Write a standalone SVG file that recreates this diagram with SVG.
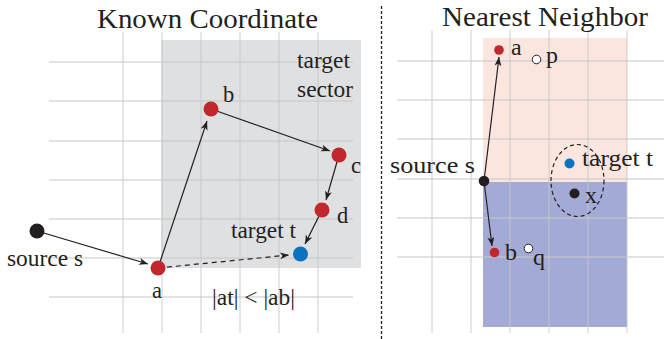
<svg xmlns="http://www.w3.org/2000/svg" width="664" height="339" viewBox="0 0 664 339">
<style>
.grid line{stroke:#c8c8c8;stroke-opacity:0.7;stroke-width:1.3}
.t{font-family:"Liberation Serif","Times New Roman",serif;fill:#231f20}
.lab{font-size:22.5px}
.labr{font-size:24px}
.title{font-size:28px}
.conn{stroke:#231f20;stroke-width:1.2;fill:none}
.red{fill:#c1272d}
.blue{fill:#0a72c0}
.blk{fill:#231f20}
.hollow{fill:#fff;stroke:#231f20;stroke-width:1}
</style>
<defs>
<marker id="ah" markerWidth="10" markerHeight="8" refX="9" refY="3.5" orient="auto" markerUnits="userSpaceOnUse">
<path d="M0,0 L9,3.5 L0,7 L2.5,3.5 z" fill="#231f20"/>
</marker>
</defs>
<rect width="664" height="339" fill="#fff"/>
<rect id="sector" x="161" y="40" width="200" height="228" fill="#dfe0e2"/>
<rect x="483" y="38" width="144" height="144" fill="#fae6df"/>
<rect x="483" y="182" width="144" height="145" fill="#a3aad6"/>
<g class="grid">
<line x1="123" y1="32" x2="123" y2="333"/>
<line x1="162" y1="32" x2="162" y2="333"/>
<line x1="201" y1="32" x2="201" y2="333"/>
<line x1="240" y1="32" x2="240" y2="333"/>
<line x1="279" y1="32" x2="279" y2="333"/>
<line x1="318" y1="32" x2="318" y2="333"/>
<line x1="49" y1="62" x2="353" y2="62"/>
<line x1="49" y1="101" x2="353" y2="101"/>
<line x1="49" y1="141" x2="353" y2="141"/>
<line x1="49" y1="180" x2="353" y2="180"/>
<line x1="49" y1="219" x2="353" y2="219"/>
<line x1="49" y1="258" x2="353" y2="258"/>
<line x1="49" y1="297" x2="353" y2="297"/>
<line x1="432" y1="30" x2="432" y2="333"/>
<line x1="471" y1="30" x2="471" y2="333"/>
<line x1="510" y1="30" x2="510" y2="333"/>
<line x1="549" y1="30" x2="549" y2="333"/>
<line x1="588" y1="30" x2="588" y2="333"/>
<line x1="627" y1="30" x2="627" y2="333"/>
<line x1="397" y1="61" x2="664" y2="61"/>
<line x1="397" y1="100" x2="664" y2="100"/>
<line x1="397" y1="139" x2="664" y2="139"/>
<line x1="397" y1="179" x2="664" y2="179"/>
<line x1="397" y1="218" x2="664" y2="218"/>
<line x1="397" y1="257" x2="664" y2="257"/>
</g>
<line x1="381.5" y1="6" x2="381.5" y2="339" stroke="#231f20" stroke-width="1.3" stroke-dasharray="3,2"/>
<g id="connectors" class="conn">
<line x1="37" y1="231" x2="148" y2="264" marker-end="url(#ah)"/>
<line x1="158" y1="268" x2="207" y2="121" marker-end="url(#ah)"/>
<line x1="211" y1="109" x2="330" y2="151" marker-end="url(#ah)"/>
<line x1="339" y1="155" x2="326" y2="200" marker-end="url(#ah)"/>
<line x1="322" y1="210" x2="305" y2="244" marker-end="url(#ah)"/>
<line x1="158" y1="268" x2="289" y2="255" stroke-dasharray="5,4" marker-end="url(#ah)"/>
<line x1="484" y1="181" x2="499" y2="57" marker-end="url(#ah)"/>
<line x1="484" y1="181" x2="492" y2="246" marker-end="url(#ah)"/>
<ellipse cx="577.5" cy="180.5" rx="26.5" ry="36" stroke-dasharray="4,3"/>
</g>
<text class="t title" x="97" y="28" textLength="221" lengthAdjust="spacingAndGlyphs">Known Coordinate</text>
<text class="t title" x="442" y="26" textLength="206" lengthAdjust="spacingAndGlyphs">Nearest Neighbor</text>
<text class="t lab" x="297" y="68" textLength="53" lengthAdjust="spacingAndGlyphs">target</text>
<text class="t lab" x="297" y="97" textLength="56" lengthAdjust="spacingAndGlyphs">sector</text>
<text class="t lab" x="212" y="305" textLength="83" lengthAdjust="spacingAndGlyphs">|at| &lt; |ab|</text>
<g id="L_s"><circle class="blk" cx="37" cy="231" r="7.5"/><text class="t lab" x="7" y="266" textLength="76" lengthAdjust="spacingAndGlyphs">source s</text></g>
<g id="L_a"><circle class="red" cx="158" cy="268" r="7.5"/><text class="t lab" x="152" y="298">a</text></g>
<g id="L_b"><circle class="red" cx="211" cy="109" r="7.5"/><text class="t lab" x="223" y="102">b</text></g>
<g id="L_c"><circle class="red" cx="339" cy="155" r="7.5"/><text class="t lab" x="351" y="173">c</text></g>
<g id="L_d"><circle class="red" cx="322" cy="210" r="7.5"/><text class="t lab" x="337" y="223">d</text></g>
<g id="L_t"><circle class="blue" cx="300.5" cy="254" r="7.5"/><text class="t lab" x="231" y="238" textLength="65" lengthAdjust="spacingAndGlyphs">target t</text></g>
<g id="R_s"><circle class="blk" cx="484" cy="181" r="5.3"/><text class="t labr" x="390" y="173" textLength="85" lengthAdjust="spacingAndGlyphs">source s</text></g>
<g id="R_a"><circle class="red" cx="499" cy="50" r="4.8"/><text class="t labr" x="511" y="55">a</text></g>
<g id="R_p"><circle class="hollow" cx="536.5" cy="59.5" r="4.3"/><text class="t labr" x="546" y="63">p</text></g>
<g id="R_t"><circle class="blue" cx="569.5" cy="163.5" r="5"/><text class="t labr" x="582" y="166" textLength="71" lengthAdjust="spacingAndGlyphs">target t</text></g>
<g id="R_x"><circle class="blk" cx="574.5" cy="193.5" r="5"/><text class="t labr" x="585" y="203">x</text></g>
<g id="R_b"><circle class="red" cx="494.5" cy="252.5" r="4.8"/><text class="t labr" x="505" y="260">b</text></g>
<g id="R_q"><circle class="hollow" cx="528.5" cy="248.5" r="4.3"/><text class="t labr" x="533" y="265">q</text></g>
</svg>
